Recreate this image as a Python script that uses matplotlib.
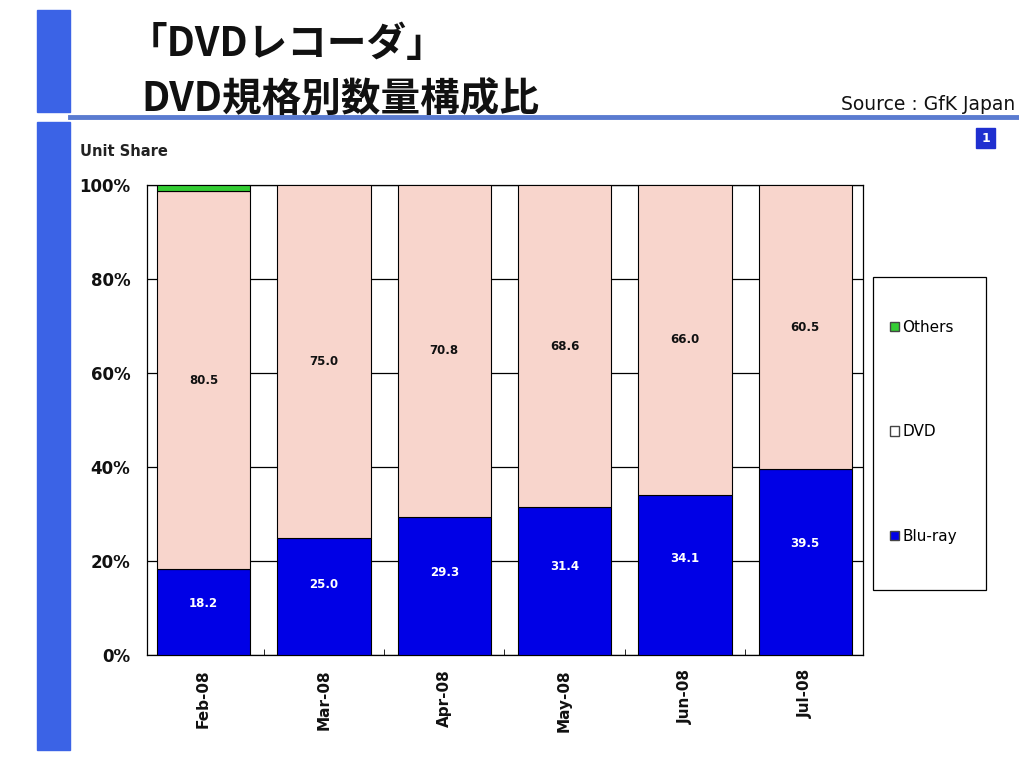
import numpy as np
import matplotlib
matplotlib.use("Agg")
import matplotlib.pyplot as plt
from matplotlib.patches import Rectangle, Patch
from matplotlib.lines import Line2D

plt.rcParams['font.family'] = ['Noto Sans CJK JP', 'DejaVu Sans']

months = ["Feb-08", "Mar-08", "Apr-08", "May-08", "Jun-08", "Jul-08"]
bluray = [18.2, 25.0, 29.3, 31.4, 34.1, 39.5]
dvd = [80.5, 75.0, 70.8, 68.6, 66.0, 60.5]
others = [1.3, 0.0, 0.0, 0.0, 0.0, 0.0]

c_blu = "#0000E6"
c_dvd = "#F8D5CC"
c_oth = "#33CC33"

W, H = 1020, 758
fig = plt.figure(figsize=(W / 100, H / 100), dpi=100)

def fx(px):
    return px / W

def fy(py):
    return 1 - py / H

# page decoration: left band, rule under title, page number box
band = "#3B63E6"
fig.patches.append(Rectangle((fx(37), fy(112)), fx(33), 102 / H, color=band, transform=fig.transFigure))
fig.patches.append(Rectangle((fx(37), fy(750)), fx(33), 628 / H, color=band, transform=fig.transFigure))
fig.lines.append(Line2D([fx(70), 1], [fy(117), fy(117)], color="#5A7BD0", lw=3.5, transform=fig.transFigure))
fig.patches.append(Rectangle((fx(976), fy(148)), fx(19), 20 / H, color="#1F2FD0", transform=fig.transFigure))
fig.text(fx(985.5), fy(138), "1", color="white", fontsize=9, fontweight="bold", ha="center", va="center",
         family="DejaVu Sans")

fig.text(fx(128), fy(45), "「DVDレコーダ」", fontsize=28.5, fontweight="bold", va="center", ha="left",
         color="#111111")
fig.text(fx(141), fy(100), "DVD規格別数量構成比", fontsize=28.5, fontweight="bold", va="center", ha="left",
         color="#111111")
fig.text(fx(1015), fy(104), "Source : GfK Japan", fontsize=13.5, va="center", ha="right", color="#111111",
         family="DejaVu Sans")
fig.text(fx(80), fy(152), "Unit Share", fontsize=10.5, fontweight="bold", va="center", ha="left",
         color="#222222", family="DejaVu Sans")

ax = fig.add_axes([fx(147), fy(655), fx(863) - fx(147), (655 - 185) / H])
x = np.arange(len(months))
bw = 0.775
ax.bar(x, bluray, bw, color=c_blu, edgecolor="black", lw=0.8, zorder=3)
ax.bar(x, dvd, bw, bottom=bluray, color=c_dvd, edgecolor="black", lw=0.8, zorder=3)
b2 = np.array(bluray) + np.array(dvd)
for i in range(len(months)):
    if others[i] > 0:
        ax.bar(x[i], others[i], bw, bottom=b2[i], color=c_oth, edgecolor="black", lw=0.8, zorder=3)

for i in range(len(months)):
    ax.text(x[i], bluray[i] * 0.6, f"{bluray[i]:.1f}", color="white", fontsize=8.5,
            fontweight="bold", ha="center", va="center", zorder=4, family="DejaVu Sans")
    ax.text(x[i], bluray[i] + dvd[i] / 2, f"{dvd[i]:.1f}", color="#111111", fontsize=8.5,
            fontweight="bold", ha="center", va="center", zorder=4, family="DejaVu Sans")

ax.set_xlim(-0.47, 5.48)
ax.set_ylim(0, 100)
ax.set_yticks([0, 20, 40, 60, 80, 100])
ax.set_yticklabels([f"{v}%" for v in [0, 20, 40, 60, 80, 100]], fontsize=12, fontweight="bold",
                   family="DejaVu Sans", color="#111111")
ax.yaxis.grid(True, color="black", lw=0.9, zorder=0)
ax.set_axisbelow(True)
ax.tick_params(axis="y", length=0, pad=12)
ax.set_xticks(x)
ax.set_xticklabels(months, rotation=90, fontsize=11, family="DejaVu Sans", fontweight="bold",
                   color="#111111")
ax.tick_params(axis="x", length=0, pad=10)
ax.set_xticks(x[:-1] + 0.5, minor=True)
ax.tick_params(axis="x", which="minor", direction="in", length=4)
for s in ax.spines.values():
    s.set_color("black")
    s.set_linewidth(0.9)

# legend box drawn separately so its width can be set
fig.patches.append(Rectangle((fx(873), fy(590)), fx(113), 313 / H, facecolor="white",
                             edgecolor="black", lw=0.9, transform=fig.transFigure))
handles = [Patch(facecolor=c_oth, edgecolor="#444444"),
           Patch(facecolor="white", edgecolor="#444444"),
           Patch(facecolor=c_blu, edgecolor="#444444")]
leg = fig.legend(handles, ["Others", "DVD", "Blu-ray"], loc="upper left",
                 bbox_to_anchor=(fx(890), fy(320)), borderaxespad=0, borderpad=0,
                 labelspacing=5.85, handlelength=0.6, handleheight=0.6, handletextpad=0.2,
                 frameon=False, prop={"family": "DejaVu Sans", "size": 11})

fig.savefig("out.png", dpi=100)
